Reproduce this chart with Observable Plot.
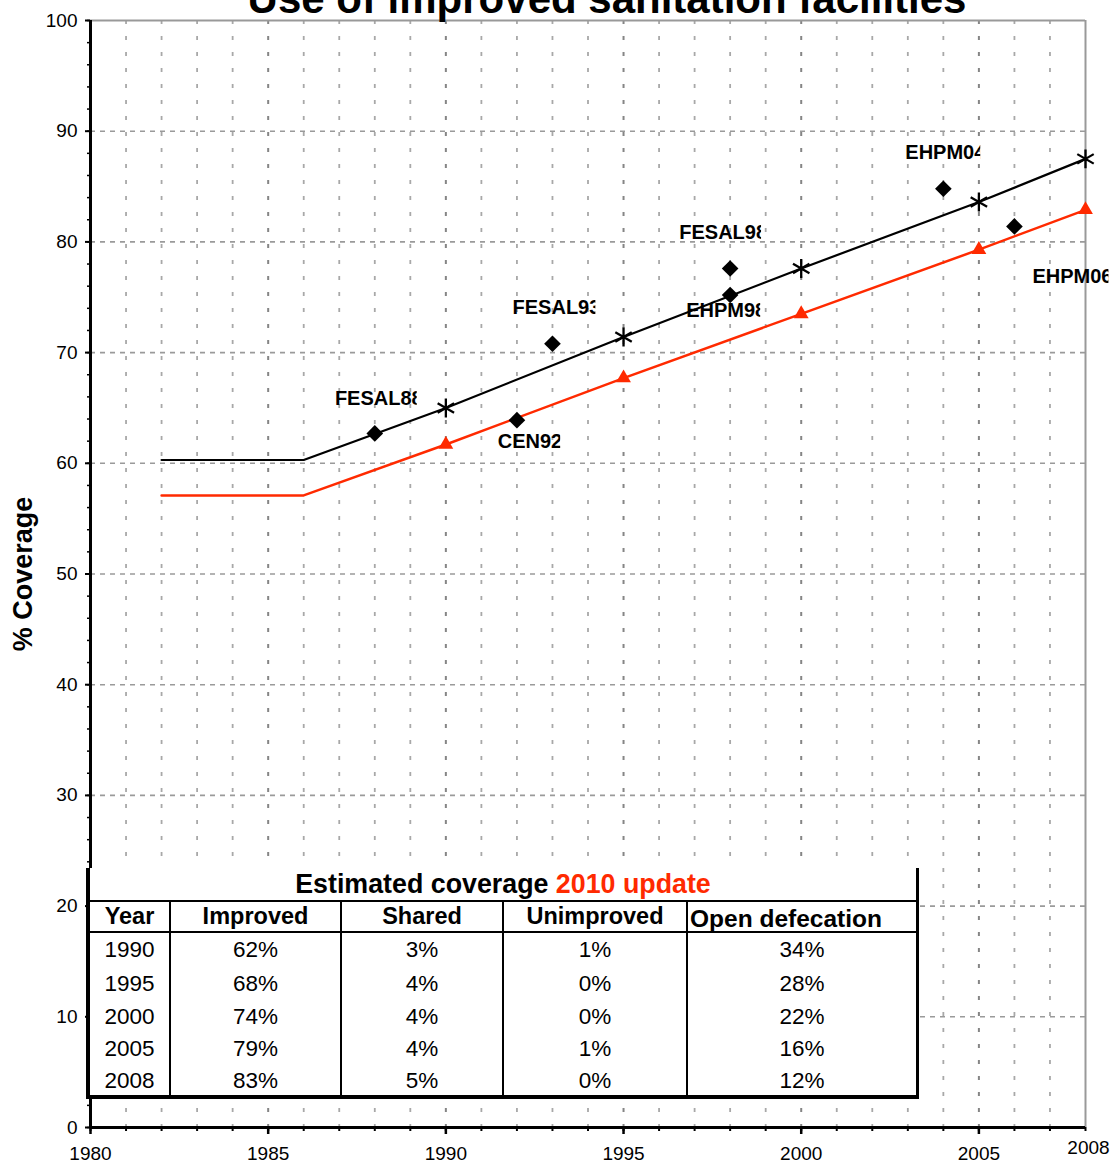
<!DOCTYPE html>
<html>
<head>
<meta charset="utf-8">
<script src="https://cdn.jsdelivr.net/npm/d3@7"></script>
<script src="https://cdn.jsdelivr.net/npm/@observablehq/plot@0.6"></script>
<style>
  body { margin: 0; background: #fff; }
  #wrap { position: relative; width: 1120px; height: 1166px; overflow: hidden; font-family: "Liberation Sans", Arial, sans-serif; }
  #tbl { position: absolute; left: 86px; top: 868px; width: 833px; height: 231px; background: #fff;
         border-left: 4px solid #000; border-right: 3px solid #000; border-bottom: 4px solid #000; box-sizing: border-box; }
  .cell { position: absolute; display: flex; align-items: center; justify-content: center; white-space: nowrap; color: #000; }
  .vline { position: absolute; background: #000; width: 2px; }
  .hline { position: absolute; background: #000; height: 2px; left: 0; right: 0; }
</style>
</head>
<body>
<div id="wrap"></div>
<script>
// ---- data ----
const years = [1982, 1986, 1990, 1995, 2000, 2005, 2008];
const improvedPlusShared = [60.3, 60.3, 65.0, 71.4, 77.6, 83.6, 87.5];
const improvedOnly = [57.1, 57.1, 61.7, 67.7, 73.5, 79.3, 82.9];
const markerYears = [1990, 1995, 2000, 2005, 2008];

const surveyNames = ["FESAL88", "CEN92", "FESAL93", "FESAL98", "EHPM98", "EHPM04", "EHPM06"];
const surveyYears = [1988, 1992, 1993, 1998, 1998, 2004, 2006];
const surveyValues = [62.7, 63.9, 70.8, 77.6, 75.2, 84.8, 81.4];

const yTicks = [0, 10, 20, 30, 40, 50, 60, 70, 80, 90, 100];
const xTickLabels = [1980, 1985, 1990, 1995, 2000, 2005];
const xLastLabel = [2008];

const tableTitle = "Estimated coverage";
const tableTitleRed = "2010 update";
const tableColumns = ["Year", "Improved", "Shared", "Unimproved", "Open defecation"];
const tableYears = [1990, 1995, 2000, 2005, 2008];
const tableImproved = [62, 68, 74, 79, 83];
const tableShared = [3, 4, 4, 4, 5];
const tableUnimproved = [1, 0, 0, 1, 0];
const tableOpen = [34, 28, 22, 16, 12];

const titleText = "Use of improved sanitation facilities";
const yTitle = "% Coverage";

// ---- styling ----
const RED = "#ff2a00";
const FONT = "Liberation Sans, Arial, sans-serif";
// label placement (dx, dy in px, clipped px at end)
const labelStyle = {
  FESAL88: [4, -35, 6], CEN92: [13, 21, 2], FESAL93: [4, -36, 5], FESAL98: [-7, -36, 6],
  EHPM98: [-4, 16, 6], EHPM04: [2, -36, 6], EHPM06: [58, 50, 4]
};

const total = years.map((y, i) => ({year: y, v: improvedPlusShared[i]}));
const impr = years.map((y, i) => ({year: y, v: improvedOnly[i]}));
const totalMarks = total.filter(d => markerYears.includes(d.year));
const imprMarks = impr.filter(d => markerYears.includes(d.year));
const surveys = surveyNames.map((n, i) => ({name: n, year: surveyYears[i], v: surveyValues[i]}));

const labelMarks = surveys.map(s => Plot.text([s], {
  x: "year", y: "v", text: "name", dx: labelStyle[s.name][0], dy: labelStyle[s.name][1],
  fontWeight: "bold", fontSize: 20, fill: "#000"
}));

const chart = Plot.plot({
  width: 1120, height: 1166,
  marginLeft: 90, marginRight: 35, marginTop: 20, marginBottom: 39,
  x: {domain: [1980, 2008]},
  y: {domain: [0, 100]},
  style: {fontFamily: FONT, fontSize: "19px", color: "#000", background: "#fff", overflow: "visible"},
  marks: [
    Plot.ruleX(d3.range(1981, 2008).filter(d => d % 5 !== 0), {stroke: "#a8a8a8", strokeWidth: 1.8, strokeDasharray: "4,12"}),
    Plot.ruleX(d3.range(1981, 2008).filter(d => d % 5 === 0), {stroke: "#858585", strokeWidth: 2, strokeDasharray: "4,12"}),
    Plot.ruleY(d3.range(10, 100, 10), {stroke: "#9a9a9a", strokeWidth: 1.6, strokeDasharray: "5,5"}),
    Plot.ruleY([100], {stroke: "#999", strokeWidth: 2}),
    Plot.ruleX([2008], {stroke: "#999", strokeWidth: 2}),
    Plot.axisY({ticks: d3.range(0, 101, 2), tickSize: 3, text: null, strokeWidth: 1.5, label: null}),
    Plot.axisY({ticks: yTicks, tickSize: 5, tickPadding: 8, tickFormat: d => String(d), strokeWidth: 2, fontSize: 19, label: null}),
    Plot.axisX({ticks: d3.range(1980, 2009), tickSize: 4, text: null, strokeWidth: 2, label: null}),
    Plot.axisX({ticks: xTickLabels, tickSize: 7, tickPadding: 12, tickFormat: d => String(d), strokeWidth: 2.5, fontSize: 19, label: null}),
    Plot.text(xLastLabel, {x: d => d, y: 0, text: d => String(d), dy: 20, dx: 3, fontSize: 19, fill: "#000"}),
    Plot.ruleX([1980], {stroke: "#000", strokeWidth: 3}),
    Plot.ruleY([0], {stroke: "#000", strokeWidth: 3}),
    Plot.text([yTitle], {frameAnchor: "left", textAnchor: "middle", dx: -67, rotate: -90, fontSize: 27, fontWeight: "bold", fill: "#000"}),
    Plot.line(impr, {x: "year", y: "v", stroke: RED, strokeWidth: 2.5}),
    Plot.line(total, {x: "year", y: "v", stroke: "#000", strokeWidth: 2.2}),
    Plot.dot(imprMarks, {x: "year", y: "v", symbol: "triangle", r: 5.5, fill: RED, stroke: "none"}),
    Plot.dot(totalMarks, {x: "year", y: "v", symbol: "asterisk", r: 9, stroke: "#000", strokeWidth: 2.3, fill: "none"}),
    Plot.dot(surveys, {x: "year", y: "v", symbol: "diamond2", r: 7.5, fill: "#000", stroke: "none"}),
    ...labelMarks
  ]
});

const wrap = document.getElementById("wrap");
wrap.appendChild(chart);

// title (partly above the page top, as in the reference)
d3.select(chart).append("text")
  .attr("x", 607).attr("y", 13).attr("text-anchor", "middle")
  .attr("font-family", FONT).attr("font-weight", "bold").attr("font-size", 42)
  .attr("fill", "#000").text(titleText);

// clip the end of each data label, like the reference's truncated label boxes
const defs = d3.select(chart).append("defs");
let ci = 0;
d3.select(chart).selectAll("text").each(function() {
  const name = this.textContent;
  if (!surveyNames.includes(name)) return;
  const cut = labelStyle[name][2];
  const b = this.getBBox();
  const id = "lblclip" + (ci++);
  defs.append("clipPath").attr("id", id).attr("clipPathUnits", "userSpaceOnUse")
    .append("rect").attr("x", b.x - 2).attr("y", b.y - 2).attr("width", b.width - cut + 2).attr("height", b.height + 4);
  this.setAttribute("clip-path", `url(#${id})`);
});

// ---- table overlay ----
const tbl = document.createElement("div");
tbl.id = "tbl";
wrap.appendChild(tbl);
const colWidths = [79, 169, 160, 182, 228];
const colLefts = [];
let acc = 0;
colWidths.forEach((w) => { colLefts.push(acc); acc += w + 2; });

// title row
const t = document.createElement("div");
t.className = "cell";
t.style.cssText = `left:0;top:0;width:826px;height:33px;font-weight:bold;font-size:26.8px;`;
const s1 = document.createElement("span"); s1.textContent = tableTitle; t.appendChild(s1);
const s2 = document.createElement("span"); s2.textContent = "\u00a0" + tableTitleRed; s2.style.color = RED; t.appendChild(s2);
tbl.appendChild(t);

// lines
const h1 = document.createElement("div"); h1.className = "hline"; h1.style.top = "32px"; tbl.appendChild(h1);
const h2 = document.createElement("div"); h2.className = "hline"; h2.style.top = "63px"; tbl.appendChild(h2);
colLefts.slice(1).forEach(l => {
  const v = document.createElement("div"); v.className = "vline";
  v.style.left = (l - 2) + "px"; v.style.top = "32px"; v.style.bottom = "0px";
  tbl.appendChild(v);
});

// header
tableColumns.forEach((c, i) => {
  const d = document.createElement("div");
  d.className = "cell";
  const last = i === tableColumns.length - 1;
  d.style.cssText = `left:${colLefts[i]}px;top:34px;width:${colWidths[i]}px;height:29px;font-weight:bold;font-size:23.5px;` +
    (last ? "justify-content:flex-start;padding-left:2px;box-sizing:border-box;top:36px;font-size:24.5px;" : "");
  d.textContent = c;
  tbl.appendChild(d);
});

// body
const pct = v => v + "%";
const cols = [tableYears.map(String), tableImproved.map(pct), tableShared.map(pct), tableUnimproved.map(pct), tableOpen.map(pct)];
const rowTops = [66, 100, 133, 165, 197];
const rowH = 32.4;
tableYears.forEach((_, r) => {
  cols.forEach((col, i) => {
    const d = document.createElement("div");
    d.className = "cell";
    d.style.cssText = `left:${colLefts[i]}px;top:${rowTops[r]}px;width:${colWidths[i]}px;height:${rowH}px;font-size:22.5px;`;
    d.textContent = col[r];
    tbl.appendChild(d);
  });
});
</script>
</body>
</html>
